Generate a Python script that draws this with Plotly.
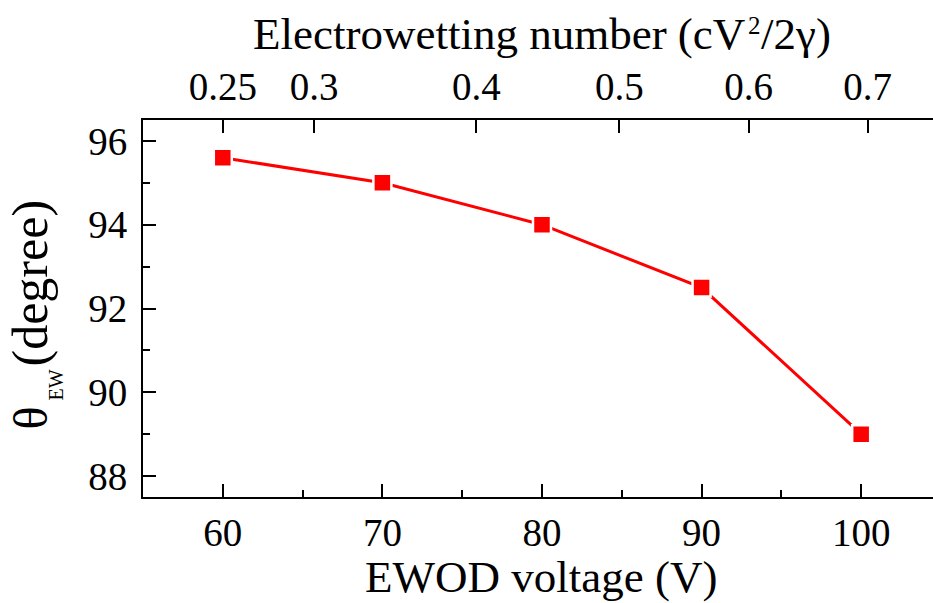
import math
import plotly.graph_objects as go

# ---- data ----
voltage = [60, 70, 80, 90, 100]               # EWOD voltage (V)
theta_ew = [95.6, 95.0, 94.0, 92.5, 89.0]     # contact angle (degree)
ew_tick_values = [0.25, 0.3, 0.4, 0.5, 0.6, 0.7]
ew_tick_labels = ["0.25", "0.3", "0.4", "0.5", "0.6", "0.7"]
# electrowetting number = k * V^2, with 0.25 at 60 V
ew_per_v2 = 0.25 / 60 ** 2
ew_tick_voltage = [math.sqrt(e / ew_per_v2) for e in ew_tick_values]

FONT = "Liberation Serif"
TICK_FONT = dict(family=FONT, size=39, color="black")
X_RANGE = [55, 104.5]
Y_RANGE = [87.5, 96.5]

W, H = 933, 603
ML, MR, MT, MB = 143, 0, 120, 106
PW, PH = W - ML - MR, H - MT - MB


def px(xp):
    return (xp - ML) / PW


def py(yp):
    return (H - MB - yp) / PH


fig = go.Figure()
fig.add_trace(go.Scatter(
    x=voltage, y=theta_ew, mode="lines+markers",
    line=dict(color="#ff0000", width=3),
    marker=dict(symbol="square", size=18, color="#ff0000",
                line=dict(color="white", width=2.5)),
    showlegend=False, hoverinfo="skip",
))
# invisible trace to carry the top axis
fig.add_trace(go.Scatter(
    x=voltage, y=theta_ew, xaxis="x2", mode="lines", opacity=0,
    showlegend=False, hoverinfo="skip",
))

axis_common = dict(showline=True, linewidth=2, linecolor="black",
                   showgrid=False, zeroline=False, ticks="inside",
                   ticklen=13, tickwidth=2, tickcolor="black",
                   tickfont=TICK_FONT)

fig.update_layout(
    width=W, height=H,
    margin=dict(l=ML, r=MR, t=MT, b=MB),
    plot_bgcolor="white", paper_bgcolor="white",
    font=dict(family=FONT, color="black"),
    xaxis=dict(range=X_RANGE, tickvals=[60, 70, 80, 90, 100],
               minor=dict(ticks="inside", ticklen=7, tickwidth=2,
                          tickcolor="black", dtick=5, tick0=55, showgrid=False),
               ticklabelstandoff=0, **axis_common),
    xaxis2=dict(range=X_RANGE, overlaying="x", side="top", anchor="y",
                tickvals=ew_tick_voltage, ticktext=ew_tick_labels,
                ticklabelstandoff=2, **axis_common),
    yaxis=dict(range=Y_RANGE, tick0=88, dtick=2,
               minor=dict(ticks="inside", ticklen=7, tickwidth=2,
                          tickcolor="black", dtick=1, showgrid=False),
               ticklabelstandoff=6, **axis_common),
)


def ann(text, x, y, size, xanchor="center", yanchor="middle", angle=0):
    fig.add_annotation(text=text, xref="paper", yref="paper", x=px(x), y=py(y),
                       xanchor=xanchor, yanchor=yanchor, textangle=angle,
                       borderpad=0, showarrow=False,
                       font=dict(family=FONT, size=size, color="black"))


# bottom title
ann("EWOD voltage (V)", 541, 577, 45)
# top title: Electrowetting number (cV^2/2gamma)
ann("Electrowetting number (cV", 746, 34, 45, xanchor="right")
ann("2", 747, 26, 25, xanchor="left")
ann("/2&#947;)", 760, 34, 45, xanchor="left")
# left title: theta_EW (degree), rotated
ann("&#952;", 30, 430, 48, yanchor="bottom", angle=-90)
ann("EW", 55, 402, 20, yanchor="bottom", angle=-90)
ann("(degree)", 29, 368, 50, yanchor="bottom", angle=-90)

fig.write_html("out.html")
